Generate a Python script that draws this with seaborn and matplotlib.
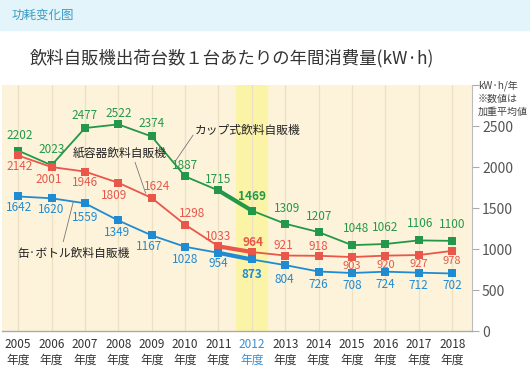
import pandas as pd
import matplotlib.pyplot as plt
import seaborn as sns
from matplotlib.patches import Rectangle

# Values
years = list(range(2005, 2019))
cup_values = [2202, 2023, 2477, 2522, 2374, 1887, 1715, 1469, 1309, 1207, 1048, 1062, 1106, 1100]
paper_values = [2142, 2001, 1946, 1809, 1624, 1298, 1033, 964, 921, 918, 903, 920, 927, 978]
can_values = [1642, 1620, 1559, 1349, 1167, 1028, 954, 873, 804, 726, 708, 724, 712, 702]
series_names = ["カップ式飲料自販機", "紙容器飲料自販機", "缶·ボトル飲料自販機"]
year_labels = [f"{y}\n年度" for y in years]
y_ticks = [0, 500, 1000, 1500, 2000, 2500, 3000]
y_tick_labels = ["0", "500", "1000", "1500", "2000", "2500", ""]
highlight_year = 2012

GREEN = "#23984a"
RED = "#e8574a"
BLUE = "#1f8bd3"
BG = "#fdf3da"
colors = {series_names[0]: GREEN, series_names[1]: RED, series_names[2]: BLUE}

sns.set_style("white")
plt.rcParams["font.family"] = ["Noto Sans CJK JP", "DejaVu Sans"]

df = pd.DataFrame({
    "year": years * 3,
    "value": cup_values + paper_values + can_values,
    "kind": [series_names[0]] * 14 + [series_names[1]] * 14 + [series_names[2]] * 14,
})

fig = plt.figure(figsize=(5.3, 3.68), dpi=100)
fig.patch.set_facecolor("white")
fig.add_artist(Rectangle((0, 1 - 30 / 368), 1, 30 / 368, transform=fig.transFigure,
                         color="#e3f4fb", zorder=0))
fig.text(12 / 530, 1 - 15 / 368, "功耗变化图", color="#3a9cc4", fontsize=9, va="center")
fig.text(30 / 530, 1 - 58 / 368, "飲料自販機出荷台数１台あたりの年間消費量(kW·h)",
         color="#333333", fontsize=12.5, va="center")

ax = fig.add_axes([0.004, 0.1005, 0.887, 0.668])
ax.set_facecolor(BG)
ax.set_xlim(2004.52, 2018.6)
ax.set_ylim(0, 3000)

# highlight band and vertical grid
ax.axvspan(highlight_year - 0.48, highlight_year + 0.45, color="#fbf4a6", zorder=0)
for y in years:
    ax.axvline(y, color="#ece1c4", linewidth=0.9, zorder=0.5)

sns.lineplot(data=df, x="year", y="value", hue="kind", palette=colors,
             marker="s", markersize=6, markeredgewidth=0, linewidth=1.3,
             legend=False, ax=ax, zorder=3)

# thicker segment into the highlighted year
seg = df[df["year"].isin([2011, 2012])]
sns.lineplot(data=seg, x="year", y="value", hue="kind", palette=colors,
             linewidth=3, legend=False, ax=ax, zorder=2.5)

# value labels
def put_labels(vals, color, offsets, size=8.5):
    for y, v, off in zip(years, vals, offsets):
        bold = y == highlight_year
        ax.annotate(str(v), (y, v), xytext=off, textcoords="offset points",
                    ha="center", va="center", color=color,
                    fontsize=size if y < 2015 or color != RED else 8,
                    fontweight="bold" if bold else "normal", zorder=2.8)

green_off = [(1, 11), (0, 11), (0, 9), (0, 8), (0, 9), (0, 8), (0, 8), (0, 10),
             (1, 11), (0, 11), (3, 12), (0, 12), (1, 12), (0, 12)]
red_off = [(1, -8), (-2, -9), (0, -8), (-3, -9), (4, 8), (5, 8), (0, 7), (1, 7),
           (-1, 7), (0, 7), (0, -6.5), (0, -6.5), (0, -6.5), (0, -7)]
blue_off = [(1, -8), (0, -8), (0, -10), (-1, -9), (-2, -8), (0, -9), (0, -8), (0, -11),
            (-1, -10), (0, -9), (0, -9), (0, -9), (0, -9), (0, -9)]
put_labels(cup_values, GREEN, green_off)
put_labels(paper_values, RED, red_off)
put_labels(can_values, BLUE, blue_off)

# series name callouts with leader lines
ax.text(2010.3, 2452, series_names[0], fontsize=8.5, color="#222222", va="center")
ax.plot([2010.24, 2009.73], [2391, 2086], color="#777777", linewidth=0.6, zorder=4)
ax.text(2006.62, 2171, series_names[1], fontsize=8.5, color="#222222", va="center")
ax.plot([2008.5, 2008.82], [2060, 1680], color="#777777", linewidth=0.6, zorder=4)
ax.text(2004.97, 951, series_names[2], fontsize=8.5, color="#222222", va="center")
ax.plot([2006.35, 2006.65], [1090, 1575], color="#777777", linewidth=0.6, zorder=4)

# axes styling
ax.yaxis.tick_right()
ax.set_yticks(y_ticks)
ax.set_yticklabels(y_tick_labels)
ax.tick_params(axis="y", direction="out", length=5, width=0.8, color="#aaaaaa",
               labelcolor="#555555", labelsize=10, pad=2, right=True, left=False)
ax.set_xticks(years)
ax.set_xticklabels(year_labels, linespacing=1.25)
ax.tick_params(axis="x", length=0, labelsize=8.5, labelcolor="#333333", pad=5)
for lbl, y in zip(ax.get_xticklabels(), years):
    if y == highlight_year:
        lbl.set_color("#3a8fd0")
ax.set_xlabel("")
ax.set_ylabel("")
for side in ["top", "left"]:
    ax.spines[side].set_visible(False)
ax.spines["right"].set_color("#bbbbbb")
ax.spines["right"].set_linewidth(0.8)
ax.spines["bottom"].set_color("#aaaaaa")
ax.spines["bottom"].set_linewidth(1)

fig.text(478 / 530, 1 - 80 / 368, "kW·h/年\n※数値は\n加重平均値", fontsize=7.2,
         color="#444444", va="top", linespacing=1.4)

fig.savefig("out.png", dpi=100)
